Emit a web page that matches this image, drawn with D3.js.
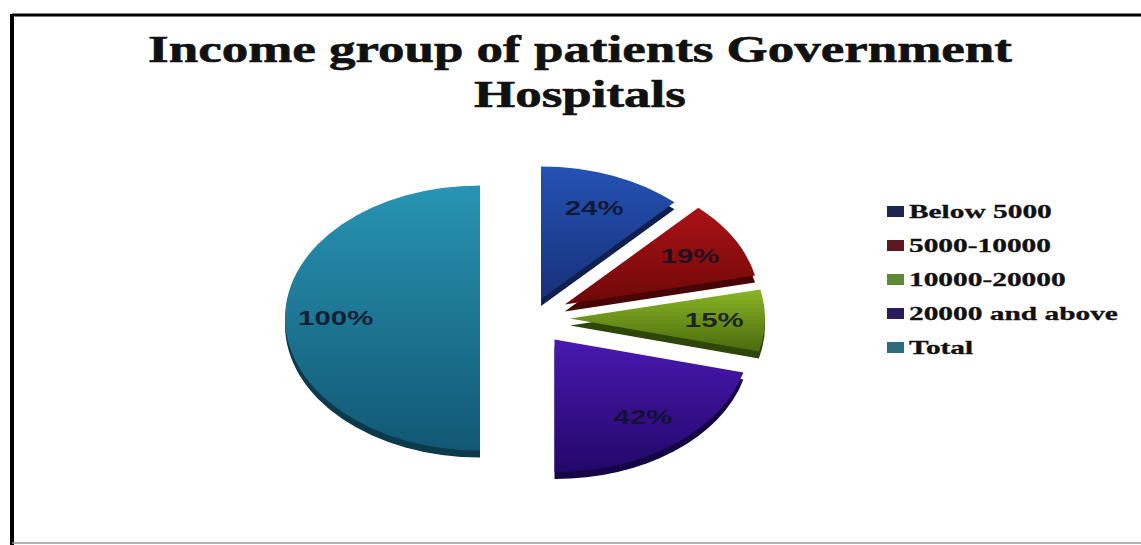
<!DOCTYPE html>
<html>
<head>
<meta charset="utf-8">
<script src="https://cdn.jsdelivr.net/npm/d3@7"></script>
<style>
  body { margin: 0; background: #fff; }
  svg { display: block; }
</style>
</head>
<body>
<div class="chart"></div>
<script>
var categories = ["Below 5000", "5000-10000", "10000-20000", "20000 and above", "Total"];
var shares = [24, 19, 15, 42, 100];
var titleLines = ["Income group of patients Government", "Hospitals"];

var width = 1141, height = 545;
var topColors = ["#2452b4", "#ab1216", "#8ab626", "#4a18b0", "#2894b3"];
var bottomColors = ["#17317a", "#6e0808", "#4a6a0e", "#22086a", "#125874"];
var keyColors = ["#1b2550", "#5c1822", "#5f8a34", "#2a1c5c", "#2a6c7c"];
// how far each slice is pulled out of the pie
var explode = [30, 40, 40, 40, 50];

var svg = d3.select(".chart").append("svg")
  .attr("width", width)
  .attr("height", height);

// frame
svg.append("line").attr("x1", 12).attr("y1", 15).attr("x2", width).attr("y2", 15)
  .attr("stroke", "#000").attr("stroke-width", 3);
svg.append("line").attr("x1", 12).attr("y1", 14).attr("x2", 12).attr("y2", height)
  .attr("stroke", "#000").attr("stroke-width", 4);
svg.append("line").attr("x1", 12).attr("y1", 543).attr("x2", width).attr("y2", 543)
  .attr("stroke", "#999").attr("stroke-width", 1.5);

// title, stretched wide like the source
var title = svg.append("g").attr("class", "title");
title.selectAll("text")
  .data(titleLines)
  .enter()
  .append("text")
  .attr("x", 580)
  .attr("y", (d, i) => 62 + i * 45)
  .attr("text-anchor", "middle")
  .attr("font-family", "'Liberation Serif', 'Times New Roman', serif")
  .attr("font-weight", "bold")
  .attr("font-size", 38)
  .attr("fill", "#111")
  .attr("stroke", "#111")
  .attr("stroke-width", 0.6)
  .text(d => d);
var firstLen = title.select("text").node().getComputedTextLength();
var stretch = 864 / firstLen;
title.selectAll("text")
  .attr("transform", `translate(580,0) scale(${stretch},1) translate(-580,0)`);

// gradients
var defs = svg.append("defs");
categories.forEach((c, i) => {
  var g = defs.append("linearGradient")
    .attr("id", "grad" + i)
    .attr("x1", 0).attr("y1", 0).attr("x2", 0).attr("y2", 1);
  g.append("stop").attr("offset", "0%").attr("stop-color", topColors[i]);
  g.append("stop").attr("offset", "100%").attr("stop-color", bottomColors[i]);
});

// pie
var cx = 530, cy = 318, radius = 195, tilt = 0.68, depth = 7;
var pie = d3.pie().sort(null).value(d => d);
var arcs = pie(shares);
var arc = d3.arc().innerRadius(0).outerRadius(radius);

function offset(d, i) {
  var mid = (d.startAngle + d.endAngle) / 2;
  return [Math.sin(mid) * explode[i], -Math.cos(mid) * explode[i]];
}

var pieG = svg.append("g")
  .attr("transform", `translate(${cx},${cy}) scale(1,${tilt})`);

// side / thickness
pieG.selectAll(".side")
  .data(arcs)
  .enter()
  .append("path")
  .attr("class", "side")
  .attr("d", arc)
  .attr("fill", (d, i) => d3.color(bottomColors[i]).darker(1.2))
  .attr("transform", (d, i) => {
    var o = offset(d, i);
    return `translate(${o[0]},${o[1] + depth / tilt})`;
  });

pieG.selectAll(".slice")
  .data(arcs)
  .enter()
  .append("path")
  .attr("class", "slice")
  .attr("d", arc)
  .attr("fill", (d, i) => `url(#grad${i})`)
  .attr("transform", (d, i) => {
    var o = offset(d, i);
    return `translate(${o[0]},${o[1]})`;
  });

// percentage labels
svg.selectAll(".pct")
  .data(arcs)
  .enter()
  .append("text")
  .attr("class", "pct")
  .attr("x", (d, i) => {
    var mid = (d.startAngle + d.endAngle) / 2;
    return cx + offset(d, i)[0] + Math.sin(mid) * radius * 0.74;
  })
  .attr("y", (d, i) => {
    var mid = (d.startAngle + d.endAngle) / 2;
    return cy + (offset(d, i)[1] - Math.cos(mid) * radius * 0.74) * tilt;
  })
  .attr("dy", "0.35em")
  .attr("text-anchor", "middle")
  .attr("font-family", "'Liberation Sans', Arial, sans-serif")
  .attr("font-weight", "bold")
  .attr("font-size", 21)
  .attr("fill", "#101024")
  .attr("fill-opacity", 0.85)
  .attr("transform", function(d, i) {
    var x = +d3.select(this).attr("x");
    return `translate(${x},0) scale(1.4,1) translate(${-x},0)`;
  })
  .text(d => d.data + "%");

// legend
var legend = svg.append("g").attr("class", "legend");
var rows = legend.selectAll(".row")
  .data(categories)
  .enter()
  .append("g")
  .attr("class", "row")
  .attr("transform", (d, i) => `translate(887,${212 + i * 34})`);
rows.append("rect")
  .attr("x", 0).attr("y", -6)
  .attr("width", 17).attr("height", 11)
  .attr("fill", (d, i) => keyColors[i]);
rows.append("text")
  .attr("x", 22)
  .attr("dy", "0.35em")
  .attr("font-family", "'Liberation Serif', 'Times New Roman', serif")
  .attr("font-weight", "bold")
  .attr("font-size", 18)
  .attr("fill", "#111")
  .attr("stroke", "#111")
  .attr("stroke-width", 0.3)
  .text(d => d);
var longest = d3.max(rows.selectAll("text").nodes(), n => n.getComputedTextLength());
var legStretch = (1118 - 909) / longest;
rows.selectAll("text")
  .attr("transform", `translate(22,0) scale(${legStretch},1) translate(-22,0)`);
</script>
</body>
</html>
